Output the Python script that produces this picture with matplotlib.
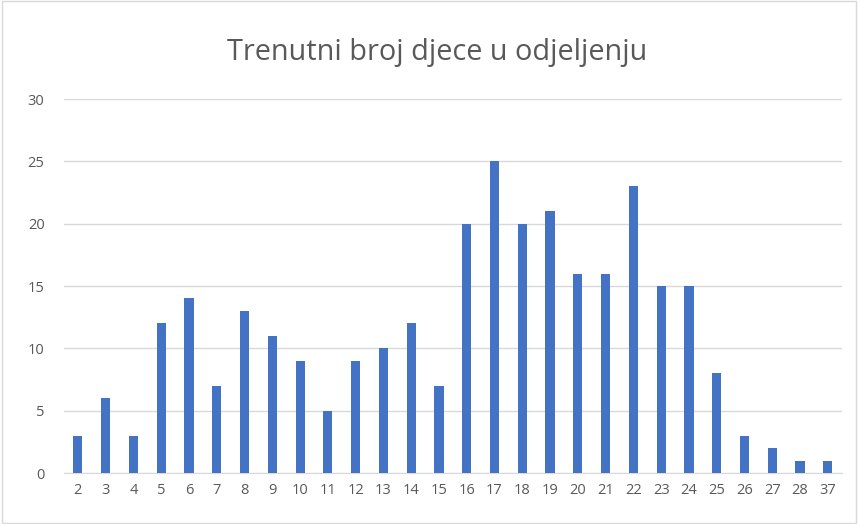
import matplotlib
matplotlib.use("Agg")
import matplotlib.pyplot as plt
from matplotlib.patches import Rectangle

categories = ["2", "3", "4", "5", "6", "7", "8", "9", "10", "11", "12", "13", "14", "15",
              "16", "17", "18", "19", "20", "21", "22", "23", "24", "25", "26", "27", "28", "37"]
counts = [3, 6, 3, 12, 14, 7, 13, 11, 9, 5, 9, 10, 12, 7,
          20, 25, 20, 21, 16, 16, 23, 15, 15, 8, 3, 2, 1, 1]

plt.rcParams["font.family"] = ["Open Sans", "DejaVu Sans"]

fig = plt.figure(figsize=(8.58, 5.24), dpi=100)
ax = fig.add_axes([0.0746, 0.0973, 0.9064, 0.7137])

x = range(len(categories))
ax.bar(x, counts, width=0.33, color="#4472C4", zorder=3)

ax.set_xlim(-0.5, len(categories) - 0.5)
ax.set_ylim(0, 30)
ax.set_yticks(range(0, 31, 5))
ax.set_xticks(list(x))
ax.set_xticklabels(categories)
ax.grid(axis="y", color="#D9D9D9", linewidth=1, zorder=0)
for side in ("top", "right", "left"):
    ax.spines[side].set_visible(False)
ax.spines["bottom"].set_color("#D9D9D9")
ax.tick_params(length=0, colors="#595959", labelsize=10.5, pad=7)
ax.tick_params(axis="y", pad=14)

fig.text(0.51, 0.9, "Trenutni broj djece u odjeljenju", ha="center", va="center",
         fontsize=20.8, color="#595959")

fig.patches.append(Rectangle((0.002, 0.002), 0.996, 0.996, transform=fig.transFigure,
                             fill=False, edgecolor="#D9D9D9", linewidth=1))

fig.savefig("out.png", dpi=100)
